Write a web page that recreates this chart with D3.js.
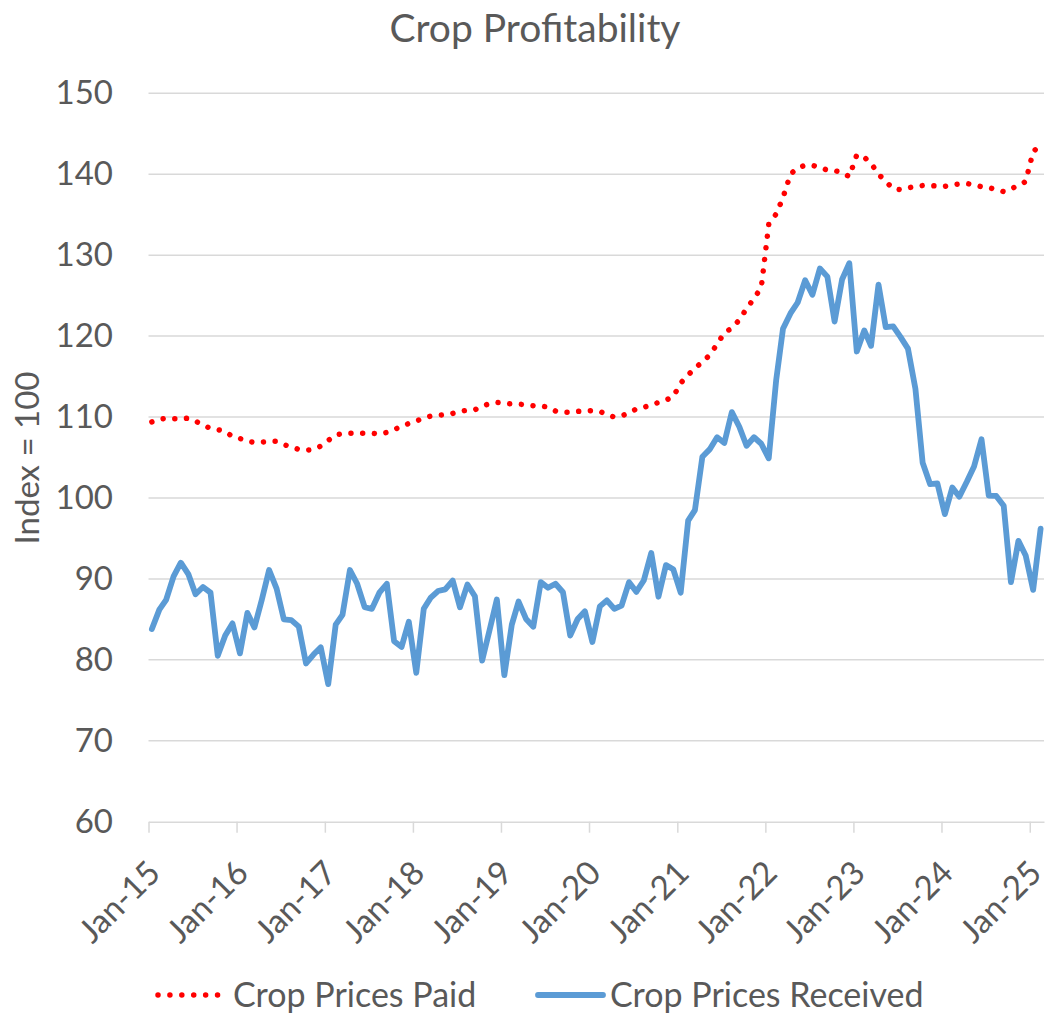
<!DOCTYPE html>
<meta charset="utf-8">
<style>

    body {
        margin: 0;
        background: #fff;
    }

    text {
        font-family: Lato, "Open Sans", sans-serif;
        fill: #595959;
    }

    .grid line {
        stroke: #d9d9d9;
        stroke-width: 1.5;
    }

</style>
<body>
<script src="https://d3js.org/d3.v7.min.js"></script>
<script>

    // monthly index values, Jan-15 .. Feb-25
    var paid = [
        109.4, 109.7, 109.85, 109.8, 109.8, 109.85, 109.5, 109.0, 108.6, 108.45,
        108.2, 107.6, 107.35, 107.0, 106.85, 106.9, 107.0, 107.0, 106.6, 106.3,
        106.0, 105.9, 106.0, 106.4, 107.1, 107.8, 107.95, 108.0, 108.0, 108.0,
        108.0, 107.9, 108.1, 108.45, 108.85, 109.2, 109.5, 109.9, 110.1, 110.2,
        110.3, 110.45, 110.7, 110.85, 110.9, 111.35, 111.65, 111.8, 111.7, 111.6,
        111.6, 111.5, 111.4, 111.4, 111.2, 110.75, 110.6, 110.6, 110.7, 110.75,
        110.8, 110.7, 110.3, 110.0, 110.15, 110.5, 111.0, 111.2, 111.5, 111.8,
        112.1, 112.5, 114.2, 115.2, 116.05, 116.8, 117.65, 119.0, 120.4, 121.0,
        122.0, 123.4, 124.65, 126.0, 133.8, 135.1, 137.1, 140.0, 140.8, 141.1,
        141.1, 140.85, 140.5, 140.45, 140.2, 139.7, 142.4, 142.1, 141.35, 140.0,
        139.1, 138.2, 138.1, 138.3, 138.5, 138.6, 138.6, 138.55, 138.5, 138.7,
        138.8, 138.85, 138.7, 138.45, 138.35, 138.1, 137.85, 138.2, 138.6, 139.1,
        142.8, 143.6
    ];

    var received = [
        83.8, 86.2, 87.4, 90.3, 92.0, 90.6, 88.1, 89.0, 88.3, 80.5,
        83.0, 84.5, 80.8, 85.8, 84.0, 87.45, 91.1, 88.8, 85.0, 84.9,
        84.1, 79.55, 80.65, 81.55, 77.0, 84.35, 85.55, 91.1, 89.4, 86.5,
        86.3, 88.3, 89.4, 82.3, 81.6, 84.7, 78.4, 86.3, 87.65, 88.5,
        88.7, 89.8, 86.5, 89.3, 87.85, 79.9, 83.7, 87.45, 78.1, 84.35,
        87.2, 85.05, 84.1, 89.6, 88.9, 89.4, 88.35, 83.0, 85.05, 86.0,
        82.2, 86.6, 87.35, 86.3, 86.7, 89.6, 88.4, 89.8, 93.2, 87.8,
        91.7, 91.2, 88.3, 97.2, 98.5, 105.1, 106.0, 107.5, 106.8, 110.6,
        108.8, 106.45, 107.5, 106.7, 104.9, 114.6, 120.9, 122.8, 124.15, 126.9,
        125.1, 128.35, 127.35, 121.8, 127.0, 129.0, 118.1, 120.7, 118.8, 126.35,
        121.1, 121.2, 119.9, 118.45, 113.5, 104.35, 101.7, 101.8, 98.0, 101.3,
        100.15, 102.0, 103.9, 107.25, 100.3, 100.25, 99.05, 89.6, 94.7, 92.9,
        88.65, 96.2
    ];

    var seriesNames = ["Crop Prices Paid", "Crop Prices Received"];
    var yTicks = [60, 70, 80, 90, 100, 110, 120, 130, 140, 150];
    var xStart = new Date(2015, 0, 1),
        xEnd = new Date(2025, 2, 1);

    // data points sit mid-month on a date axis
    var months = d3.timeMonth.range(xStart, xEnd).map(function(d) { return d3.timeDay.offset(d, 14); });
    var xTicks = d3.timeYear.range(xStart, new Date(2025, 0, 2));

    var width = 1051,
        height = 1016;

    var x = d3.scaleTime()
        .domain([xStart, xEnd])
        .range([148.5, 1044]);

    var y = d3.scaleLinear()
        .domain([60, 150])
        .range([821.7, 93.3]);

    var svg = d3.select("body").append("svg")
        .attr("width", width)
        .attr("height", height);

    svg.append("text")
        .attr("x", 535)
        .attr("y", 42)
        .attr("text-anchor", "middle")
        .style("font-size", "39px")
        .text("Crop Profitability");

    // gridlines
    svg.append("g")
        .attr("class", "grid")
        .selectAll("line")
        .data(yTicks.slice(1))
        .enter().append("line")
        .attr("x1", x.range()[0])
        .attr("x2", x.range()[1])
        .attr("y1", function(d) { return y(d); })
        .attr("y2", function(d) { return y(d); });

    // y labels
    var yAxis = svg.append("g")
        .attr("transform", "translate(113,0)")
        .call(d3.axisLeft(y).tickValues(yTicks).tickSize(0).tickPadding(0));
    yAxis.select(".domain").remove();
    yAxis.selectAll("text")
        .style("font-size", "33px")
        .style("fill", "#595959");

    svg.append("text")
        .attr("transform", "translate(39,458) rotate(-90)")
        .attr("text-anchor", "middle")
        .style("font-size", "33px")
        .text("Index = 100");

    // x axis
    var xAxis = svg.append("g")
        .attr("transform", "translate(0," + y(60) + ")")
        .call(d3.axisBottom(x)
            .tickValues(xTicks)
            .tickFormat(d3.timeFormat("%b-%y"))
            .tickSize(11)
            .tickSizeOuter(0));
    xAxis.select(".domain").style("stroke", "#d9d9d9").style("stroke-width", 1.5);
    xAxis.selectAll(".tick line").style("stroke", "#d9d9d9").style("stroke-width", 1.5);
    xAxis.selectAll("text")
        .style("font-size", "33px")
        .style("fill", "#595959")
        .attr("text-anchor", "end")
        .attr("y", 0)
        .attr("dy", "0.35em")
        .attr("transform", "translate(5,45) rotate(-45)");

    var line = d3.line()
        .x(function(d, i) { return x(months[i]); })
        .y(function(d) { return y(d); });

    svg.append("path")
        .datum(received)
        .attr("d", line)
        .attr("fill", "none")
        .attr("stroke", "#5b9bd5")
        .attr("stroke-width", 5.8)
        .attr("stroke-linejoin", "round")
        .attr("stroke-linecap", "round");

    svg.append("path")
        .datum(paid)
        .attr("d", line)
        .attr("fill", "none")
        .attr("stroke", "#ff0000")
        .attr("stroke-width", 5.5)
        .attr("stroke-dasharray", "0.01 11.7")
        .attr("stroke-linecap", "round");

    // legend
    var legend = svg.append("g")
        .attr("transform", "translate(0,995)");

    legend.append("line")
        .attr("x1", 158).attr("x2", 224)
        .attr("stroke", "#ff0000")
        .attr("stroke-width", 5.5)
        .attr("stroke-dasharray", "0.01 11.9")
        .attr("stroke-linecap", "round");

    legend.append("line")
        .attr("x1", 538).attr("x2", 603)
        .attr("stroke", "#5b9bd5")
        .attr("stroke-width", 5.8)
        .attr("stroke-linecap", "round");

    legend.selectAll("text")
        .data(seriesNames)
        .enter().append("text")
        .attr("x", function(d, i) { return i ? 610 : 233; })
        .attr("dy", "0.35em")
        .style("font-size", "34px")
        .text(function(d) { return d; });

</script>
